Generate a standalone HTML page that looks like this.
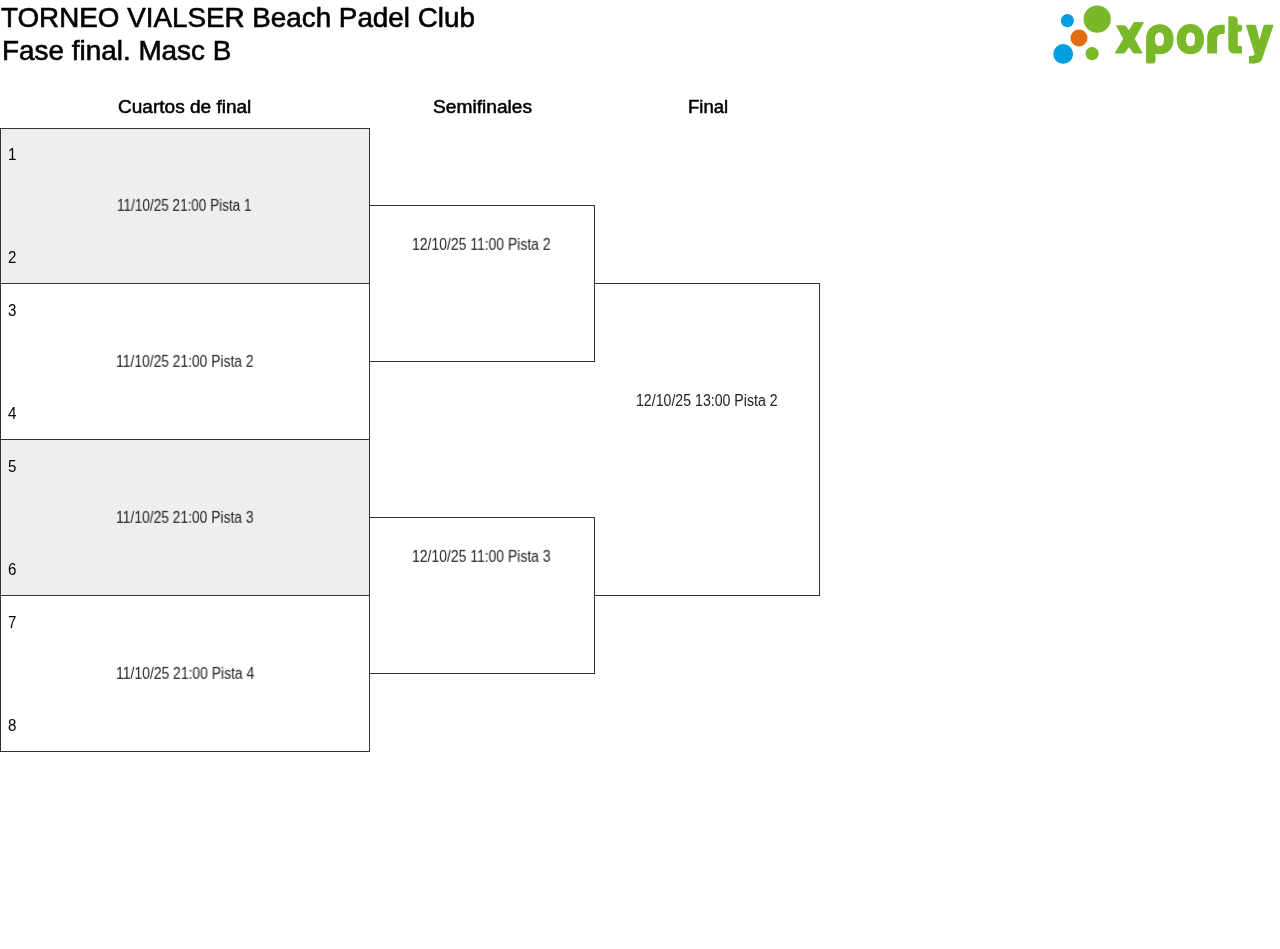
<!DOCTYPE html>
<html>
<head>
<meta charset="utf-8">
<style>
html,body{margin:0;padding:0;background:#fff;}
body{width:1280px;height:949px;position:relative;overflow:hidden;font-family:"Liberation Sans",sans-serif;color:#000;}
.t{position:absolute;white-space:nowrap;line-height:1;transform-origin:0 0;will-change:transform;}
.n{font-size:14px;}
.d{color:#222;}
.box{position:absolute;box-sizing:border-box;border:1px solid #333;}
.g{background:#eee;}
</style>
</head>
<body>
<!-- quarter boxes -->
<div class="box g" style="left:0;top:128px;width:370px;height:156px;"></div>
<div class="box" style="left:0;top:283px;width:370px;height:157px;"></div>
<div class="box g" style="left:0;top:439px;width:370px;height:157px;"></div>
<div class="box" style="left:0;top:595px;width:370px;height:157px;"></div>
<!-- semi boxes -->
<div class="box" style="left:369px;top:205px;width:226px;height:157px;"></div>
<div class="box" style="left:369px;top:517px;width:226px;height:157px;"></div>
<!-- final box -->
<div class="box" style="left:595px;top:283px;width:225px;height:313px;border-left:none;"></div>

<div class="t" style="left:1.0px;top:4px;font-size:27.4px;transform:scale(1.015,1);-webkit-text-stroke:0.6px #000;">TORNEO VIALSER Beach Padel Club</div>
<div class="t" style="left:1.96px;top:37px;font-size:27.4px;transform:scale(1.018,1);-webkit-text-stroke:0.6px #000;">Fase final. Masc B</div>
<div class="t" style="left:117.92px;top:99px;font-size:17.6px;transform:scale(1.082,1);-webkit-text-stroke:0.5px #000;">Cuartos de final</div>
<div class="t" style="left:432.91px;top:99px;font-size:17.6px;transform:scale(1.0889,1);-webkit-text-stroke:0.5px #000;">Semifinales</div>
<div class="t" style="left:687.95px;top:99px;font-size:17.6px;transform:scale(1.0541,1);-webkit-text-stroke:0.5px #000;">Final</div>
<div class="t n" style="left:7.5px;top:146.1px;transform:scale(1.08,1.158);">1</div>
<div class="t n" style="left:7.5px;top:249.1px;transform:scale(1.08,1.158);">2</div>
<div class="t n" style="left:7.5px;top:302.1px;transform:scale(1.08,1.158);">3</div>
<div class="t n" style="left:7.5px;top:405.1px;transform:scale(1.08,1.158);">4</div>
<div class="t n" style="left:7.5px;top:458.1px;transform:scale(1.08,1.158);">5</div>
<div class="t n" style="left:7.5px;top:561.1px;transform:scale(1.08,1.158);">6</div>
<div class="t n" style="left:7.5px;top:614.1px;transform:scale(1.08,1.158);">7</div>
<div class="t n" style="left:7.5px;top:717.1px;transform:scale(1.08,1.158);">8</div>

<div class="t d" style="left:117.03px;top:197.11px;font-size:14.0px;transform:scale(0.9673,1.1579);">11/10/25 21:00 Pista 1</div>
<div class="t d" style="left:116.01px;top:353.11px;font-size:14.0px;transform:scale(0.9891,1.1579);">11/10/25 21:00 Pista 2</div>
<div class="t d" style="left:116.01px;top:509.11px;font-size:14.0px;transform:scale(0.9891,1.1579);">11/10/25 21:00 Pista 3</div>
<div class="t d" style="left:116.01px;top:665.11px;font-size:14.0px;transform:scale(0.9946,1.1579);">11/10/25 21:00 Pista 4</div>
<div class="t d" style="left:412.0px;top:236.11px;font-size:14.0px;transform:scale(0.9964,1.1579);">12/10/25 11:00 Pista 2</div>
<div class="t d" style="left:412.0px;top:548.11px;font-size:14.0px;transform:scale(0.9964,1.1579);">12/10/25 11:00 Pista 3</div>
<div class="t d" style="left:635.99px;top:392.11px;font-size:14.0px;transform:scale(1.0108,1.1579);">12/10/25 13:00 Pista 2</div>
<svg style="position:absolute;left:1040px;top:0" width="240" height="80" viewBox="1040 0 240 80">
<g fill="#79b829">
<circle cx="1097.2" cy="19.1" r="13.7"/>
<circle cx="1092.1" cy="53.6" r="6.6"/>
<path d="M1116.33,26.33 Q1115.70,25.20 1117.00,25.20 L1123.90,25.20 Q1125.20,25.20 1125.99,26.24 L1128.64,29.72 Q1129.00,30.20 1129.30,29.68 L1133.05,23.13 Q1133.70,22.00 1135.00,22.00 L1142.90,22.00 Q1144.20,22.00 1143.56,23.13 L1135.00,38.28 Q1134.70,38.80 1134.99,39.32 L1142.27,52.46 Q1142.90,53.60 1141.60,53.60 L1134.70,53.60 Q1133.40,53.60 1132.68,52.52 L1129.33,47.50 Q1129.00,47.00 1128.66,47.50 L1125.23,52.53 Q1124.50,53.60 1123.20,53.60 L1115.70,53.60 Q1114.40,53.60 1115.07,52.49 L1122.99,39.31 Q1123.30,38.80 1123.01,38.28 Z"/>
<path d="M1173.60,39.25 C1173.60,48.28 1168.08,54.30 1159.80,54.30 C1151.52,54.30 1146.00,48.28 1146.00,39.25 C1146.00,30.22 1151.52,24.20 1159.80,24.20 C1168.08,24.20 1173.60,30.22 1173.60,39.25 Z"/>
<path d="M1146,39.25 L1155.5,39.25 L1155.5,60.6 Q1155.5,63.4 1152.7,63.4 L1147.3,63.4 Q1146,63.4 1146,62.1 Z"/>
<path d="M1204.00,39.20 C1204.00,48.26 1198.54,54.30 1190.35,54.30 C1182.16,54.30 1176.70,48.26 1176.70,39.20 C1176.70,30.14 1182.16,24.10 1190.35,24.10 C1198.54,24.10 1204.00,30.14 1204.00,39.20 Z"/>
<path d="M1207.2,52.4 L1207.2,38 C1207.2,29 1213,24.8 1222,24.8 L1223.5,24.8 Q1224.8,24.8 1224.8,26.1 L1224.8,32.6 Q1224.8,33.9 1223.5,33.9 L1221.5,33.9 C1218.5,33.9 1217.1,36 1217.1,39 L1217.1,52.4 Q1217.1,53.6 1215.9,53.6 L1208.4,53.6 Q1207.2,53.6 1207.2,52.4 Z"/>
<path d="M1228.3,17.5 Q1228.3,16.3 1229.5,16.3 L1233,16.3 Q1237.8,16.3 1237.8,21 L1237.8,24.8 L1240.5,24.8 Q1242,24.8 1242,26.5 L1242,29.5 Q1242,31.8 1239.7,31.8 L1237.8,31.8 L1237.8,45.9 L1240.8,45.9 Q1242,45.9 1242,47.1 L1242,52.4 Q1242,53.6 1240.8,53.6 L1235,53.6 Q1228.3,53.6 1228.3,47 Z"/>
<path d="M1246.17,25.97 Q1245.60,24.80 1246.90,24.80 L1254.50,24.80 Q1255.80,24.80 1256.13,26.06 L1259.47,39.02 Q1259.60,39.50 1259.74,39.02 L1263.44,26.05 Q1263.80,24.80 1265.10,24.80 L1272.40,24.80 Q1273.70,24.80 1273.28,26.03 L1262.20,58.80 Q1260.3,63.4 1255,63.4 L1250.2,63.4 Q1249,63.4 1249,62.2 L1249,57 Q1249,55.8 1250.4,55.8 L1252.8,55.8 Q1254.5,55.6 1254.7,54.3 Z"/>
</g>
<g fill="#fff">
<path d="M1164.00,39.25 C1164.00,43.84 1162.56,46.00 1159.50,46.00 C1156.44,46.00 1155.00,43.84 1155.00,39.25 C1155.00,34.66 1156.44,32.50 1159.50,32.50 C1162.56,32.50 1164.00,34.66 1164.00,39.25 Z"/>
<path d="M1195.00,39.35 C1195.00,44.01 1193.56,46.20 1190.50,46.20 C1187.44,46.20 1186.00,44.01 1186.00,39.35 C1186.00,34.69 1187.44,32.50 1190.50,32.50 C1193.56,32.50 1195.00,34.69 1195.00,39.35 Z"/>
</g>
<g fill="#049de1">
<circle cx="1067.4" cy="20.7" r="6.6"/>
<circle cx="1063.2" cy="53.9" r="9.9"/>
</g>
<circle cx="1079" cy="37.9" r="8.5" fill="#e36d0c"/>
</svg>
</body>
</html>
